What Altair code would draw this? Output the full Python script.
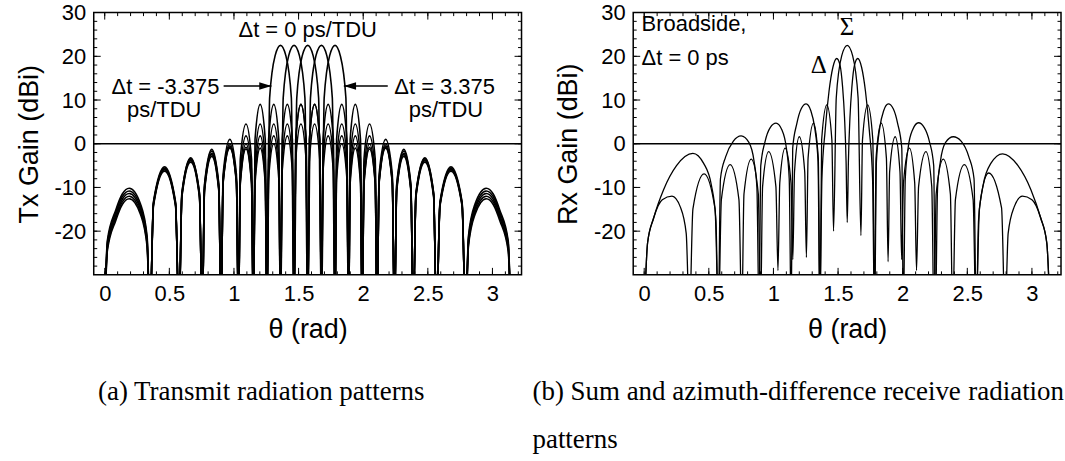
import altair as alt
import pandas as pd

# ---------------- axis ranges, tick positions, tick labels ----------------
THETA_DOMAIN = [-0.085, 3.225]
GAIN_DOMAIN = [-30, 30]
X_LABELS = [0, 0.5, 1, 1.5, 2, 2.5, 3]
Y_LABELS = [-20, -10, 0, 10, 20, 30]
X_MAJOR_TICKS = [0, 0.5, 1, 1.5, 2, 2.5, 3]
X_MINOR_TICKS = [0.0, 0.1, 0.2, 0.3, 0.4, 0.5, 0.6, 0.7, 0.8, 0.9, 1.0, 1.1, 1.2, 1.3,
                 1.4, 1.5, 1.6, 1.7, 1.8, 1.9, 2.0, 2.1, 2.2, 2.3, 2.4, 2.5, 2.6, 2.7,
                 2.8, 2.9, 3.0, 3.1, 3.2]
Y_MAJOR_TICKS = [-20, -10, 0, 10, 20]
Y_MINOR_TICKS = [-28, -26, -24, -22, -20, -18, -16, -14, -12, -10, -8, -6, -4, -2, 0,
                 2, 4, 6, 8, 10, 12, 14, 16, 18, 20, 22, 24, 26, 28]
ZERO_LEVEL = [0]

# ---------------- (a) transmit patterns, (theta rad, gain dBi) ----------------
TX_DT_M3375 = [
    (0.0, -40), (0.02, -22.2), (0.085, -15.2), (0.136, -11.5), (0.19, -10.2), (0.277, -13.8), (0.328, -21.2), (0.35, -40),
    (0.377, -13.3), (0.463, -5.3), (0.548, -13.3), (0.575, -40),
    (0.597, -11.2), (0.665, -3.2), (0.733, -11.2), (0.755, -40),
    (0.772, -9.3), (0.828, -1.3), (0.883, -9.3), (0.90, -40),
    (0.916, -7.0), (0.968, 1.0), (1.019, -7.0), (1.035, -40),
    (1.049, -3.5), (1.093, 4.5), (1.136, -3.5), (1.15, -40),
    (1.163, 1.0), (1.203, 9.0), (1.242, 1.0), (1.255, -40),
    (1.276, 10.5), (1.318, 20.1), (1.36, 22.5), (1.402, 20.1), (1.444, 10.5), (1.465, -40),
    (1.478, 1.0), (1.518, 9.0), (1.558, 1.0), (1.571, -40),
    (1.584, -3.5), (1.624, 4.5), (1.664, -3.5), (1.677, -40),
    (1.689, -6.2), (1.729, 1.8), (1.769, -6.2), (1.782, -40),
    (1.794, -8.0), (1.834, 0.0), (1.874, -8.0), (1.887, -40),
    (1.899, -9.0), (1.939, -1.0), (1.979, -9.0), (1.992, -40),
    (2.006, -9.2), (2.049, -1.2), (2.093, -9.2), (2.107, -40),
    (2.123, -9.0), (2.174, -1.0), (2.225, -9.0), (2.242, -40),
    (2.259, -10.9), (2.314, -2.9), (2.369, -10.9), (2.387, -40),
    (2.408, -12.2), (2.477, -4.2), (2.545, -12.2), (2.567, -40),
    (2.594, -14.3), (2.679, -6.3), (2.765, -14.3), (2.792, -40),
    (2.814, -23.6), (2.865, -16.2), (2.952, -12.6), (3.006, -13.9), (3.057, -17.6), (3.122, -24.6), (3.142, -40),
]
TX_DT_M16875 = [
    (0.0, -40), (0.02, -22.8), (0.085, -15.8), (0.136, -12.1), (0.19, -10.8), (0.277, -14.4), (0.328, -21.8), (0.35, -40),
    (0.377, -13.6), (0.463, -5.6), (0.548, -13.6), (0.575, -40),
    (0.597, -11.4), (0.665, -3.4), (0.733, -11.4), (0.755, -40),
    (0.772, -9.7), (0.828, -1.7), (0.883, -9.7), (0.90, -40),
    (0.916, -8.0), (0.968, 0.0), (1.019, -8.0), (1.035, -40),
    (1.049, -6.2), (1.093, 1.8), (1.136, -6.2), (1.15, -40),
    (1.163, -3.5), (1.203, 4.5), (1.242, -3.5), (1.255, -40),
    (1.268, 1.0), (1.308, 9.0), (1.347, 1.0), (1.36, -40),
    (1.381, 10.5), (1.423, 20.1), (1.465, 22.5), (1.507, 20.1), (1.549, 10.5), (1.571, -40),
    (1.584, 1.0), (1.624, 9.0), (1.664, 1.0), (1.677, -40),
    (1.689, -3.5), (1.729, 4.5), (1.769, -3.5), (1.782, -40),
    (1.794, -6.2), (1.834, 1.8), (1.874, -6.2), (1.887, -40),
    (1.899, -8.0), (1.939, 0.0), (1.979, -8.0), (1.992, -40),
    (2.006, -8.8), (2.049, -0.8), (2.093, -8.8), (2.107, -40),
    (2.123, -8.8), (2.174, -0.8), (2.225, -8.8), (2.242, -40),
    (2.259, -10.5), (2.314, -2.5), (2.369, -10.5), (2.387, -40),
    (2.408, -11.9), (2.477, -3.9), (2.545, -11.9), (2.567, -40),
    (2.594, -14.0), (2.679, -6.0), (2.765, -14.0), (2.792, -40),
    (2.814, -23.0), (2.865, -15.6), (2.952, -12.0), (3.006, -13.3), (3.057, -17.0), (3.122, -24.0), (3.142, -40),
]
TX_DT_0 = [
    (0.0, -40), (0.02, -23.4), (0.085, -16.4), (0.136, -12.7), (0.19, -11.4), (0.277, -15.0), (0.328, -22.4), (0.35, -40),
    (0.377, -13.8), (0.463, -5.8), (0.548, -13.8), (0.575, -40),
    (0.597, -11.7), (0.665, -3.7), (0.733, -11.7), (0.755, -40),
    (0.772, -10.2), (0.828, -2.2), (0.883, -10.2), (0.90, -40),
    (0.916, -8.5), (0.968, -0.5), (1.019, -8.5), (1.035, -40),
    (1.049, -8.0), (1.093, 0.0), (1.136, -8.0), (1.15, -40),
    (1.163, -6.2), (1.203, 1.8), (1.242, -6.2), (1.255, -40),
    (1.268, -3.5), (1.308, 4.5), (1.347, -3.5), (1.36, -40),
    (1.373, 1.0), (1.413, 9.0), (1.452, 1.0), (1.465, -40),
    (1.486, 10.5), (1.528, 20.1), (1.571, 22.5), (1.613, 20.1), (1.655, 10.5), (1.677, -40),
    (1.689, 1.0), (1.729, 9.0), (1.769, 1.0), (1.782, -40),
    (1.794, -3.5), (1.834, 4.5), (1.874, -3.5), (1.887, -40),
    (1.899, -6.2), (1.939, 1.8), (1.979, -6.2), (1.992, -40),
    (2.006, -8.0), (2.049, 0.0), (2.093, -8.0), (2.107, -40),
    (2.123, -8.5), (2.174, -0.5), (2.225, -8.5), (2.242, -40),
    (2.259, -10.2), (2.314, -2.2), (2.369, -10.2), (2.387, -40),
    (2.408, -11.7), (2.477, -3.7), (2.545, -11.7), (2.567, -40),
    (2.594, -13.8), (2.679, -5.8), (2.765, -13.8), (2.792, -40),
    (2.814, -22.4), (2.865, -15.0), (2.952, -11.4), (3.006, -12.7), (3.057, -16.4), (3.122, -23.4), (3.142, -40),
]
TX_DT_P16875 = [
    (0.0, -40), (0.02, -24.0), (0.085, -17.0), (0.136, -13.3), (0.19, -12.0), (0.277, -15.6), (0.328, -23.0), (0.35, -40),
    (0.377, -14.0), (0.463, -6.0), (0.548, -14.0), (0.575, -40),
    (0.597, -11.9), (0.665, -3.9), (0.733, -11.9), (0.755, -40),
    (0.772, -10.5), (0.828, -2.5), (0.883, -10.5), (0.90, -40),
    (0.916, -8.8), (0.968, -0.8), (1.019, -8.8), (1.035, -40),
    (1.049, -8.8), (1.093, -0.8), (1.136, -8.8), (1.15, -40),
    (1.163, -8.0), (1.203, 0.0), (1.242, -8.0), (1.255, -40),
    (1.268, -6.2), (1.308, 1.8), (1.347, -6.2), (1.36, -40),
    (1.373, -3.5), (1.413, 4.5), (1.452, -3.5), (1.465, -40),
    (1.478, 1.0), (1.518, 9.0), (1.558, 1.0), (1.571, -40),
    (1.592, 10.5), (1.634, 20.1), (1.677, 22.5), (1.719, 20.1), (1.761, 10.5), (1.782, -40),
    (1.794, 1.0), (1.834, 9.0), (1.874, 1.0), (1.887, -40),
    (1.899, -3.5), (1.939, 4.5), (1.979, -3.5), (1.992, -40),
    (2.006, -6.2), (2.049, 1.8), (2.093, -6.2), (2.107, -40),
    (2.123, -8.0), (2.174, 0.0), (2.225, -8.0), (2.242, -40),
    (2.259, -9.7), (2.314, -1.7), (2.369, -9.7), (2.387, -40),
    (2.408, -11.4), (2.477, -3.4), (2.545, -11.4), (2.567, -40),
    (2.594, -13.6), (2.679, -5.6), (2.765, -13.6), (2.792, -40),
    (2.814, -21.8), (2.865, -14.4), (2.952, -10.8), (3.006, -12.1), (3.057, -15.8), (3.122, -22.8), (3.142, -40),
]
TX_DT_P3375 = [
    (0.0, -40), (0.02, -24.6), (0.085, -17.6), (0.136, -13.9), (0.19, -12.6), (0.277, -16.2), (0.328, -23.6), (0.35, -40),
    (0.377, -14.3), (0.463, -6.3), (0.548, -14.3), (0.575, -40),
    (0.597, -12.2), (0.665, -4.2), (0.733, -12.2), (0.755, -40),
    (0.772, -10.9), (0.828, -2.9), (0.883, -10.9), (0.90, -40),
    (0.916, -9.0), (0.968, -1.0), (1.019, -9.0), (1.035, -40),
    (1.049, -9.2), (1.093, -1.2), (1.136, -9.2), (1.15, -40),
    (1.163, -9.0), (1.203, -1.0), (1.242, -9.0), (1.255, -40),
    (1.268, -8.0), (1.308, 0.0), (1.347, -8.0), (1.36, -40),
    (1.373, -6.2), (1.413, 1.8), (1.452, -6.2), (1.465, -40),
    (1.478, -3.5), (1.518, 4.5), (1.558, -3.5), (1.571, -40),
    (1.584, 1.0), (1.624, 9.0), (1.664, 1.0), (1.677, -40),
    (1.698, 10.5), (1.740, 20.1), (1.782, 22.5), (1.823, 20.1), (1.866, 10.5), (1.887, -40),
    (1.899, 1.0), (1.939, 9.0), (1.979, 1.0), (1.992, -40),
    (2.006, -3.5), (2.049, 4.5), (2.093, -3.5), (2.107, -40),
    (2.123, -7.0), (2.174, 1.0), (2.225, -7.0), (2.242, -40),
    (2.259, -9.3), (2.314, -1.3), (2.369, -9.3), (2.387, -40),
    (2.408, -11.2), (2.477, -3.2), (2.545, -11.2), (2.567, -40),
    (2.594, -13.3), (2.679, -5.3), (2.765, -13.3), (2.792, -40),
    (2.814, -21.2), (2.865, -13.8), (2.952, -10.2), (3.006, -11.5), (3.057, -15.2), (3.122, -22.2), (3.142, -40),
]

# ---------------- (b) receive patterns, (theta rad, gain dBi) ----------------
RX_SUM = [
    (0.0, -40), (0.026, -22.7), (0.073, -17.0), (0.14, -12.8), (0.215, -12.0), (0.28, -14.5), (0.325, -20.5), (0.35, -40),
    (0.377, -14.9), (0.463, -6.9), (0.548, -14.9), (0.575, -40),
    (0.597, -12.8), (0.665, -4.8), (0.733, -12.8), (0.755, -40),
    (0.772, -11.5), (0.828, -3.5), (0.883, -11.5), (0.90, -40),
    (0.916, -9.8), (0.963, -1.8), (1.019, -9.8), (1.035, -29),
    (1.049, -9.0), (1.09, -1.0), (1.136, -9.0), (1.15, -26.5),
    (1.163, -6.4), (1.2, 1.6), (1.242, -6.4), (1.255, -26),
    (1.268, -3.3), (1.31, 4.7), (1.347, -3.3), (1.36, -40),
    (1.373, 0.9), (1.413, 8.9), (1.452, 0.9), (1.465, -20),
    (1.486, 10.5), (1.528, 20.1), (1.571, 22.5), (1.613, 20.1), (1.655, 10.5), (1.677, -21),
    (1.689, 0.9), (1.729, 8.9), (1.769, 0.9), (1.782, -40),
    (1.794, -3.3), (1.834, 4.7), (1.874, -3.3), (1.887, -27),
    (1.899, -6.4), (1.942, 1.6), (1.979, -6.4), (1.992, -26.5),
    (2.006, -9.0), (2.052, -1.0), (2.093, -9.0), (2.107, -29),
    (2.123, -9.8), (2.18, -1.8), (2.225, -9.8), (2.242, -40),
    (2.259, -11.5), (2.314, -3.5), (2.369, -11.5), (2.387, -40),
    (2.408, -12.8), (2.477, -4.8), (2.545, -12.8), (2.567, -40),
    (2.594, -14.7), (2.665, -6.7), (2.765, -14.7), (2.792, -40),
    (2.816, -20.5), (2.862, -14.5), (2.927, -12.0), (3.0, -12.8), (3.068, -17.0), (3.115, -22.7), (3.142, -40),
]
RX_DIFF = [
    (0.0, -40), (0.026, -22.7), (0.073, -17.0), (0.15, -10.5), (0.25, -5.0), (0.377, -2.2), (0.46, -4.5), (0.52, -9.5), (0.555, -17.5), (0.573, -40),
    (0.59, -8.0), (0.63, -3.0), (0.69, 0.6), (0.75, 1.8), (0.81, 0.3), (0.85, -4.0), (0.872, -10.0), (0.889, -40),
    (0.902, -5.0), (0.935, 0.5), (0.975, 3.7), (1.02, 4.7), (1.065, 3.2), (1.10, -1.0), (1.122, -8.0), (1.137, -40),
    (1.149, -1.0), (1.18, 4.5), (1.215, 8.0), (1.253, 9.1), (1.29, 7.5), (1.32, 3.5), (1.345, -4.0), (1.359, -40),
    (1.375, -8.0), (1.40, 3.0), (1.43, 12.0), (1.46, 17.5), (1.49, 19.5), (1.515, 18.0), (1.535, 13.0), (1.55, 6.0), (1.562, -4.0), (1.571, -18),
    (1.58, -4.0), (1.592, 6.0), (1.607, 13.0), (1.627, 18.0), (1.652, 19.5), (1.682, 17.5), (1.712, 12.0), (1.742, 3.0), (1.767, -8.0), (1.782, -40),
    (1.797, -4.0), (1.822, 3.5), (1.852, 7.5), (1.889, 9.1), (1.927, 8.0), (1.962, 4.5), (1.993, -1.0), (2.005, -40),
    (2.02, -8.0), (2.042, -1.0), (2.077, 3.2), (2.122, 4.8), (2.167, 3.7), (2.207, 0.5), (2.24, -5.0), (2.253, -40),
    (2.27, -10.0), (2.292, -4.0), (2.332, 0.3), (2.392, 1.6), (2.452, 0.6), (2.512, -3.0), (2.552, -8.0), (2.569, -40),
    (2.587, -17.5), (2.622, -9.5), (2.682, -4.5), (2.773, -2.3), (2.892, -5.0), (2.992, -10.5), (3.068, -17.0), (3.115, -22.7), (3.142, -40),
]

# ---------------- styling / layout ----------------
W, H = 429, 263
SANS = "Liberation Sans"
SERIF = "Liberation Serif"
xs = alt.Scale(domain=THETA_DOMAIN, nice=False, zero=False)
ys = alt.Scale(domain=GAIN_DOMAIN, nice=False, zero=False)
DUMMY = pd.DataFrame({"k": [0]})

X_AXIS = alt.Axis(values=X_LABELS, labelExpr="'' + datum.value", title="θ (rad)",
                  titleFont=SANS, titleFontSize=27, titleFontWeight="normal",
                  titleColor="black", labelFont=SANS, labelFontSize=22,
                  labelColor="black", ticks=False, domain=False, grid=False,
                  labelPadding=9, titlePadding=12, labelOverlap=False)


def y_axis(title):
    return alt.Axis(values=Y_LABELS, labelExpr="'' + datum.value", title=title,
                    titleFont=SANS, titleFontSize=27, titleFontWeight="normal",
                    titleColor="black", labelFont=SANS, labelFontSize=22,
                    labelColor="black", ticks=False, domain=False, grid=False,
                    labelPadding=8, titlePadding=11, labelOverlap=False)


def curves_df(named):
    rows = []
    for name, pts in named.items():
        for th, g in pts:
            rows.append({"series": name, "theta": th, "gain": g})
    return pd.DataFrame(rows)


def make_panel(df, ytitle, width, extras, captions):
    YA = y_axis(ytitle)

    def X(field):
        return alt.X(field, scale=xs, axis=X_AXIS)

    def Y(field):
        return alt.Y(field, scale=ys, axis=YA)

    def tick(values, orient, length):
        if orient in ("bottom", "top"):
            m = alt.Chart(pd.DataFrame({"theta": values})).mark_rule(color="black", strokeWidth=1)
            if orient == "bottom":
                return m.encode(x=X("theta:Q"), y=alt.value(H), y2=alt.value(H - length))
            return m.encode(x=X("theta:Q"), y=alt.value(0), y2=alt.value(length))
        m = alt.Chart(pd.DataFrame({"gain": values})).mark_rule(color="black", strokeWidth=1)
        if orient == "left":
            return m.encode(y=Y("gain:Q"), x=alt.value(0), x2=alt.value(length))
        return m.encode(y=Y("gain:Q"), x=alt.value(W), x2=alt.value(W - length))

    layers = []
    layers.append(alt.Chart(pd.DataFrame({"gain": ZERO_LEVEL})).mark_rule(
        color="black", strokeWidth=1.5).encode(y=Y("gain:Q"), x=alt.value(0), x2=alt.value(W)))
    layers.append(alt.Chart(df).mark_line(color="black", strokeWidth=width,
                                          interpolate="monotone", clip=True).encode(
        x=X("theta:Q"), y=Y("gain:Q"), detail="series:N"))
    for o in ("bottom", "top"):
        layers.append(tick(X_MINOR_TICKS, o, 3.5))
        layers.append(tick(X_MAJOR_TICKS, o, 7))
    for o in ("left", "right"):
        layers.append(tick(Y_MINOR_TICKS, o, 3.5))
        layers.append(tick(Y_MAJOR_TICKS, o, 7))

    def xd(v):
        return alt.XDatum(v, scale=xs, axis=X_AXIS)

    def yd(v):
        return alt.YDatum(v, scale=ys, axis=YA)

    for e in extras:
        kind = e[0]
        if kind == "text":
            _, text, th, g, size, font, align = e
            layers.append(alt.Chart(DUMMY).mark_text(
                text=text, font=font, fontSize=size, align=align, baseline="middle",
                color="black").encode(x=xd(th), y=yd(g)))
        elif kind == "arrow":
            _, th_from, th_to, g, shape = e
            layers.append(alt.Chart(DUMMY).mark_rule(color="black", strokeWidth=1.6).encode(
                x=xd(th_from), x2=alt.X2(datum=th_to), y=yd(g)))
            layers.append(alt.Chart(DUMMY).mark_point(
                shape=shape, filled=True, color="black", size=150, opacity=1).encode(
                x=xd(th_to), y=yd(g)))
    for text, px, py, align in captions:
        layers.append(alt.Chart(DUMMY).mark_text(
            text=text, font=SERIF, fontSize=27, align=align, baseline="middle",
            color="black").encode(x=alt.value(px), y=alt.value(py)))
    return alt.layer(*layers).properties(width=W, height=H)


RIGHT_HEAD = "M0,0L-2,-0.6L-2,0.6Z"
LEFT_HEAD = "M0,0L2,-0.6L2,0.6Z"

tx_df = curves_df({
    "-3.375": TX_DT_M3375, "-1.6875": TX_DT_M16875, "0": TX_DT_0,
    "1.6875": TX_DT_P16875, "3.375": TX_DT_P3375,
})
rx_df = curves_df({"sum": RX_SUM, "diff": RX_DIFF})

panel_a = make_panel(
    tx_df, "Tx Gain (dBi)", 1.6,
    [
        ("text", "Δt = 0 ps/TDU", 1.57, 26.0, 22, SANS, "center"),
        ("text", "Δt = -3.375", 0.47, 13.0, 22, SANS, "center"),
        ("text", "ps/TDU", 0.46, 7.6, 22, SANS, "center"),
        ("text", "Δt = 3.375", 2.63, 13.0, 22, SANS, "center"),
        ("text", "ps/TDU", 2.64, 7.6, 22, SANS, "center"),
        ("arrow", 0.92, 1.29, 13.2, RIGHT_HEAD),
        ("arrow", 2.19, 1.85, 13.2, LEFT_HEAD),
    ],
    [("(a) Transmit radiation patterns", 168, 380, "center")],
)

panel_b = make_panel(
    rx_df, "Rx Gain (dBi)", 1.3,
    [
        ("text", "Broadside,", -0.02, 27.3, 22, SANS, "left"),
        ("text", "Δt = 0 ps", -0.02, 19.6, 22, SANS, "left"),
        ("text", "Σ", 1.57, 26.6, 25, SERIF, "center"),
        ("text", "Δ", 1.35, 18.0, 25, SERIF, "center"),
    ],
    [
        ("(b) Sum and azimuth-difference receive", -101, 380, "left"),
        ("radiation", 432, 380, "right"),
        ("patterns", -101, 429, "left"),
    ],
)

chart = alt.hconcat(panel_a, panel_b, spacing=8).properties(
    padding={"left": 14, "top": 0, "right": 0, "bottom": 0},
    background="white",
).configure_view(stroke="black", strokeWidth=1.5)

chart.save("out.html", embed_options={"renderer": "svg", "actions": False})
